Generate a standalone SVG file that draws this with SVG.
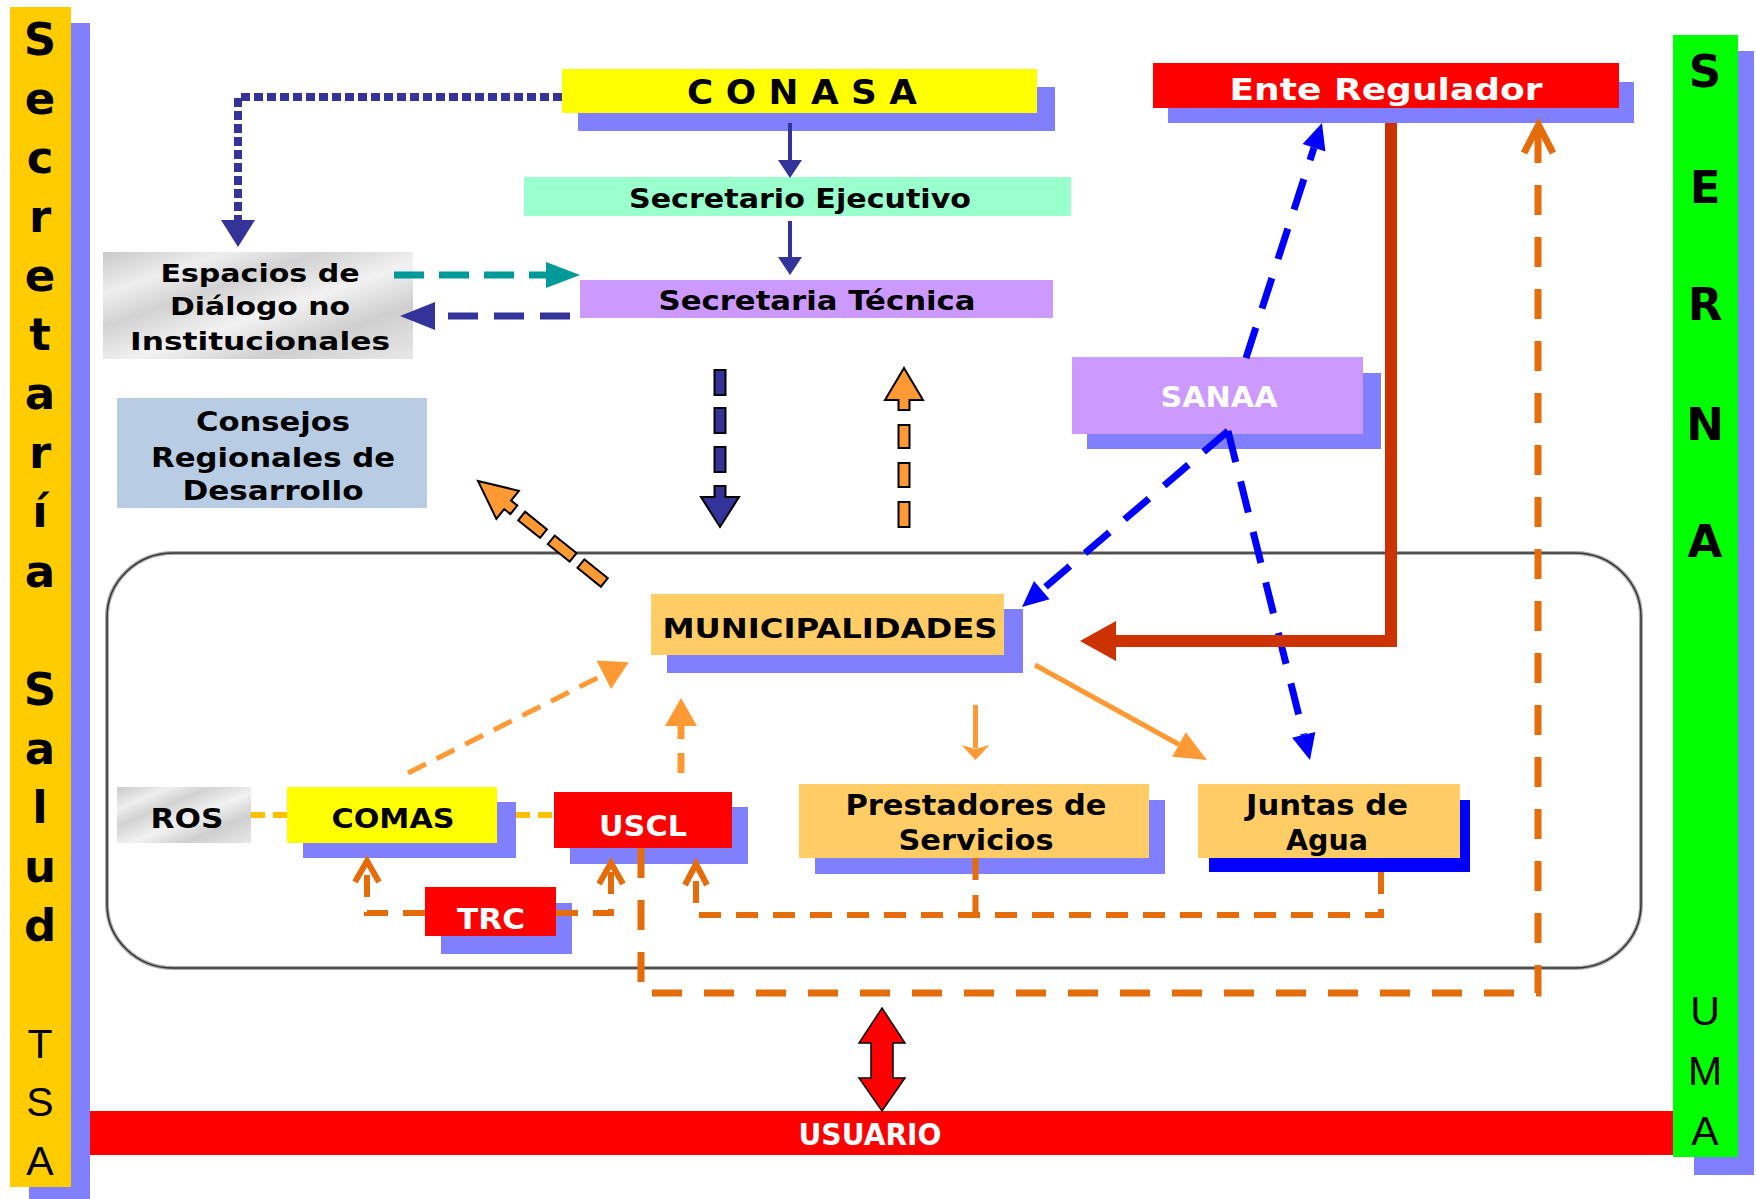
<svg xmlns="http://www.w3.org/2000/svg" width="1756" height="1199" viewBox="0 0 1756 1199">
<style>
.lbl{font-family:"DejaVu Sans","Liberation Sans",sans-serif;font-weight:bold;text-anchor:middle;fill:#000}
.wh{fill:#fff}
.shadow{fill:#8080FF}
.side{font-family:"DejaVu Sans","Liberation Sans",sans-serif;font-weight:bold;font-size:45px;text-anchor:middle;fill:#000}
.sideR{font-family:"Liberation Sans","DejaVu Sans",sans-serif;font-size:41px;text-anchor:middle;fill:#000}
.dk{fill:none;stroke:#E46C0A;stroke-width:7;stroke-dasharray:30 22}
.dk2{fill:none;stroke:#E46C0A;stroke-width:6;stroke-dasharray:22 15}
.chev{fill:none;stroke:#E46C0A;stroke-width:6;stroke-linejoin:miter;stroke-linecap:butt}
.blue{fill:none;stroke:#0000FF;stroke-width:7;stroke-dasharray:32 20}
.lo{fill:none;stroke:#FF9933}
.blk{stroke:#000;stroke-width:2}
</style>
<defs>
<linearGradient id="marble" x1="0" y1="0" x2="1" y2="1">
<stop offset="0" stop-color="#C9C9C9"/>
<stop offset="0.2" stop-color="#EEEEEE"/>
<stop offset="0.35" stop-color="#D2D2D2"/>
<stop offset="0.55" stop-color="#F2F2F2"/>
<stop offset="0.75" stop-color="#CFCFCF"/>
<stop offset="1" stop-color="#E8E8E8"/>
</linearGradient>
<marker id="mDot" markerUnits="userSpaceOnUse" orient="auto" refX="0" refY="0" overflow="visible"><path d="M0,-17 L27,0 L0,17 Z" fill="#333399"/></marker>
<marker id="mNavy" markerUnits="userSpaceOnUse" orient="auto" refX="0" refY="0" overflow="visible"><path d="M0,-14 L35,0 L0,14 Z" fill="#333399"/></marker>
<marker id="mTeal" markerUnits="userSpaceOnUse" orient="auto" refX="0" refY="0" overflow="visible"><path d="M0,-13 L34,0 L0,13 Z" fill="#009999"/></marker>
<marker id="mSmall" markerUnits="userSpaceOnUse" orient="auto" refX="0" refY="0" overflow="visible"><path d="M0,-12 L18,0 L0,12 Z" fill="#333399"/></marker>
<marker id="mBlue" markerUnits="userSpaceOnUse" orient="auto" refX="0" refY="0" overflow="visible"><path d="M0,-12 L26,0 L0,12 Z" fill="#0000FF"/></marker>
<marker id="mOr" markerUnits="userSpaceOnUse" orient="auto" refX="0" refY="0" overflow="visible"><path d="M0,-16 L28,0 L0,16 Z" fill="#FF9933"/></marker>
<marker id="mOrBig" markerUnits="userSpaceOnUse" orient="auto" refX="0" refY="0" overflow="visible"><path d="M0,-14 L32,0 L0,14 Z" fill="#FF9933"/></marker>
<marker id="mOrS" markerUnits="userSpaceOnUse" orient="auto" refX="0" refY="0" overflow="visible"><path d="M-3,-14 L12,0 L-3,14 L1,0 Z" fill="#FF9933"/></marker>
</defs>

<rect width="1756" height="1199" fill="#fff"/>

<g id="container">
<rect x="107" y="553" width="1534" height="415" rx="66" ry="64" fill="none" stroke="#aaa" stroke-width="4"/>
<rect x="107" y="553" width="1534" height="415" rx="66" ry="64" fill="none" stroke="#333" stroke-width="1.5"/>
</g>

<g id="secretaria-salud">
<rect x="29" y="23" width="61" height="1176" class="shadow"/>
<rect x="10" y="7" width="61" height="1180" fill="#FFCC00"/>
<text class="side" x="40" y="55">S</text>
<text class="side" x="40" y="114">e</text>
<text class="side" x="40" y="173">c</text>
<text class="side" x="40" y="232">r</text>
<text class="side" x="40" y="291">e</text>
<text class="side" x="40" y="350">t</text>
<text class="side" x="40" y="409">a</text>
<text class="side" x="40" y="468">r</text>
<text class="side" x="40" y="527">í</text>
<text class="side" x="40" y="587">a</text>
<text class="side" x="40" y="705">S</text>
<text class="side" x="40" y="764">a</text>
<text class="side" x="40" y="823">l</text>
<text class="side" x="40" y="882">u</text>
<text class="side" x="40" y="941">d</text>
<text class="sideR" x="40" y="1058">T</text>
<text class="sideR" x="40" y="1116">S</text>
<text class="sideR" x="40" y="1175">A</text>
</g>

<g id="usuario">
<rect x="90" y="1111" width="1590" height="44" fill="#FF0000"/>
<text class="lbl wh" x="870" y="1145" font-size="30" textLength="143" lengthAdjust="spacingAndGlyphs">USUARIO</text>
</g>

<g id="serna-uma">
<rect x="1694" y="51" width="60" height="1124" class="shadow"/>
<rect x="1673" y="35" width="65" height="1122" fill="#00FF00"/>
<text class="side" x="1705" y="87" font-size="46">S</text>
<text class="side" x="1705" y="203" font-size="46">E</text>
<text class="side" x="1705" y="320" font-size="46">R</text>
<text class="side" x="1705" y="440" font-size="46">N</text>
<text class="side" x="1705" y="557" font-size="46">A</text>
<text class="sideR" x="1705" y="1025">U</text>
<text class="sideR" x="1705" y="1085">M</text>
<text class="sideR" x="1705" y="1145">A</text>
</g>

<g id="conasa">
<rect x="578" y="87" width="477" height="44" class="shadow"/>
<rect x="562" y="69" width="475" height="44" fill="#FFFF00"/>
<text class="lbl" x="802" y="104" font-size="33" textLength="230" lengthAdjust="spacingAndGlyphs">C O N A S A</text>
</g>

<g id="secretario-ejecutivo">
<rect x="524" y="177" width="547" height="39" fill="#99FFCC"/>
<text class="lbl" x="800" y="208" font-size="26" textLength="342" lengthAdjust="spacingAndGlyphs">Secretario Ejecutivo</text>
</g>

<g id="secretaria-tecnica">
<rect x="580" y="280" width="473" height="38" fill="#CC99FF"/>
<text class="lbl" x="817" y="310" font-size="26" textLength="317" lengthAdjust="spacingAndGlyphs">Secretaria Técnica</text>
</g>

<g id="ente-regulador">
<rect x="1168" y="82" width="466" height="41" class="shadow"/>
<rect x="1153" y="63" width="466" height="45" fill="#FF0000"/>
<text class="lbl wh" x="1386" y="100" font-size="30" textLength="313" lengthAdjust="spacingAndGlyphs">Ente Regulador</text>
</g>

<g id="espacios">
<rect x="103" y="252" width="310" height="107" fill="url(#marble)"/>
<text class="lbl" x="260" y="282" font-size="25" textLength="199" lengthAdjust="spacingAndGlyphs">Espacios de</text>
<text class="lbl" x="260" y="315" font-size="25" textLength="180" lengthAdjust="spacingAndGlyphs">Diálogo no</text>
<text class="lbl" x="260" y="350" font-size="25" textLength="260" lengthAdjust="spacingAndGlyphs">Institucionales</text>
</g>

<g id="consejos">
<rect x="117" y="398" width="310" height="110" fill="#B8CCE4"/>
<text class="lbl" x="273" y="431" font-size="26" textLength="154" lengthAdjust="spacingAndGlyphs">Consejos</text>
<text class="lbl" x="273" y="467" font-size="26" textLength="244" lengthAdjust="spacingAndGlyphs">Regionales de</text>
<text class="lbl" x="273" y="500" font-size="26" textLength="181" lengthAdjust="spacingAndGlyphs">Desarrollo</text>
</g>

<g id="sanaa">
<rect x="1087" y="373" width="294" height="76" class="shadow"/>
<rect x="1072" y="357" width="291" height="77" fill="#CC99FF"/>
<text class="lbl wh" x="1219" y="407" font-size="28" textLength="117" lengthAdjust="spacingAndGlyphs">SANAA</text>
</g>

<g id="municipalidades">
<rect x="667" y="609" width="356" height="64" class="shadow"/>
<rect x="651" y="594" width="353" height="61" fill="#FFCC66"/>
<text class="lbl" x="830" y="638" font-size="27" textLength="335" lengthAdjust="spacingAndGlyphs">MUNICIPALIDADES</text>
</g>

<g id="ros">
<rect x="117" y="787" width="134" height="56" fill="url(#marble)"/>
<text class="lbl" x="187" y="828" font-size="27" textLength="73" lengthAdjust="spacingAndGlyphs">ROS</text>
</g>

<g id="comas">
<rect x="303" y="802" width="213" height="56" class="shadow"/>
<rect x="287" y="787" width="210" height="56" fill="#FFFF00"/>
<text class="lbl" x="393" y="828" font-size="27" textLength="123" lengthAdjust="spacingAndGlyphs">COMAS</text>
</g>

<g id="uscl">
<rect x="570" y="807" width="178" height="57" class="shadow"/>
<rect x="554" y="792" width="178" height="56" fill="#FF0000"/>
<text class="lbl wh" x="643" y="836" font-size="28" textLength="88" lengthAdjust="spacingAndGlyphs">USCL</text>
</g>

<g id="trc">
<rect x="441" y="903" width="131" height="51" class="shadow"/>
<rect x="425" y="887" width="131" height="49" fill="#FF0000"/>
<text class="lbl wh" x="491" y="929" font-size="29" textLength="68" lengthAdjust="spacingAndGlyphs">TRC</text>
</g>

<g id="prestadores">
<rect x="815" y="800" width="350" height="74" class="shadow"/>
<rect x="799" y="784" width="350" height="74" fill="#FFCC66"/>
<text class="lbl" x="976" y="815" font-size="28" textLength="261" lengthAdjust="spacingAndGlyphs">Prestadores de</text>
<text class="lbl" x="976" y="850" font-size="28" textLength="155" lengthAdjust="spacingAndGlyphs">Servicios</text>
</g>

<g id="juntas">
<rect x="1209" y="800" width="261" height="72" fill="#0000FF"/>
<rect x="1198" y="784" width="262" height="74" fill="#FFCC66"/>
<text class="lbl" x="1327" y="815" font-size="28" textLength="162" lengthAdjust="spacingAndGlyphs">Juntas de</text>
<text class="lbl" x="1327" y="850" font-size="28" textLength="82" lengthAdjust="spacingAndGlyphs">Agua</text>
</g>

<g id="connectors">
<!-- CONASA chain -->
<path d="M790,123 L790,160" stroke="#333399" stroke-width="4" fill="none" marker-end="url(#mSmall)"/>
<path d="M790,221 L790,257" stroke="#333399" stroke-width="4" fill="none" marker-end="url(#mSmall)"/>
<!-- dotted CONASA to Espacios -->
<path d="M562,97 L238,97 L238,220" stroke="#333399" stroke-width="8" stroke-dasharray="9 4" fill="none" marker-end="url(#mDot)"/>
<!-- Espacios <-> Tecnica -->
<path d="M394,275 L546,275" stroke="#009999" stroke-width="7" stroke-dasharray="30 15" fill="none" marker-end="url(#mTeal)"/>
<path d="M570,316 L435,316" stroke="#333399" stroke-width="7" stroke-dasharray="30 16" fill="none" marker-end="url(#mNavy)"/>

<!-- block dashed arrow down (navy) -->
<g class="blk" fill="#333399">
<rect x="714.5" y="370" width="11" height="25"/>
<rect x="714.5" y="408" width="11" height="25"/>
<rect x="714.5" y="447" width="11" height="25"/>
<path d="M714.5,486 H725.5 V497 H739 L720,527 L701,497 H714.5 Z"/>
</g>
<!-- block dashed arrow up (orange) -->
<g class="blk" fill="#FF9933">
<path d="M885,400 L904,368 L923,400 H909.5 V410 H898.5 V400 Z"/>
<rect x="898.5" y="425" width="11" height="23"/>
<rect x="898.5" y="463" width="11" height="24"/>
<rect x="898.5" y="502" width="11" height="25"/>
</g>
<!-- block dashed arrow to Consejos -->
<g class="blk" fill="#FF9933" transform="translate(478,481) rotate(38.77)">
<path d="M0,0 L38,-18 L38,-5.5 H46 V5.5 H38 L38,18 Z"/>
<rect x="56" y="-5.5" width="28" height="11"/>
<rect x="94" y="-5.5" width="28" height="11"/>
<rect x="132" y="-5.5" width="30" height="11"/>
</g>

<!-- SANAA blue dashed -->
<path class="blue" d="M1246,358 L1314,147.7" marker-end="url(#mBlue)"/>
<path class="blue" d="M1228,431 L1041.8,590.1" marker-end="url(#mBlue)"/>
<path class="blue" d="M1228,431 L1303.7,734.8" marker-end="url(#mBlue)"/>

<!-- Ente Regulador red elbow -->
<path d="M1391,123 L1391,641 L1114,641" stroke="#CC3300" stroke-width="12" fill="none"/>
<path d="M1080,641 L1116,621 L1116,661 Z" fill="#CC3300"/>

<!-- Municipalidades outputs -->
<path class="lo" d="M975.5,705 L975.5,748" stroke-width="5" marker-end="url(#mOrS)"/>
<path class="lo" d="M1035,665 L1179,744.5" stroke-width="5" marker-end="url(#mOrBig)"/>
<!-- into Municipalidades -->
<path class="lo" d="M408,773 L603.8,674.7" stroke-width="5" stroke-dasharray="20 12" marker-end="url(#mOr)"/>
<path class="lo" d="M681,773 L681,726" stroke-width="7" stroke-dasharray="20 14" marker-end="url(#mOr)"/>

<!-- ROS - COMAS - USCL -->
<path d="M251,815 L287,815" stroke="#FFC000" stroke-width="6" stroke-dasharray="14 8" fill="none"/>
<path d="M516,815 L554,815" stroke="#FFC000" stroke-width="6" stroke-dasharray="14 8" fill="none"/>

<!-- TRC links -->
<path class="dk2" d="M425,913 L367,913 L367,864"/>
<polyline class="chev" points="355,882 367,861 379,882"/>
<path class="dk2" d="M556,913 L611,913 L611,866"/>
<polyline class="chev" points="599,884 611,863 623,884"/>

<!-- Prestadores / Juntas back to USCL -->
<path class="dk2" d="M1381,872 L1381,915 L696,915 L696,867"/>
<path class="dk2" d="M975.5,858 L975.5,915"/>
<polyline class="chev" points="685,885 696,864 707,885"/>

<!-- USCL to Ente Regulador -->
<path class="dk" d="M641,848 L641,993 L1538,993 L1538,128"/>
<polyline class="chev" points="1524,153 1538.5,125 1553,153" style="stroke-width:7"/>

<!-- Usuario double arrow -->
<path d="M882,1008 L905,1043 L893,1043 L893,1078 L905,1078 L882,1111 L859,1078 L871,1078 L871,1043 L859,1043 Z" fill="#FF0000" stroke="#000" stroke-width="1.5"/>
</g>
</svg>
